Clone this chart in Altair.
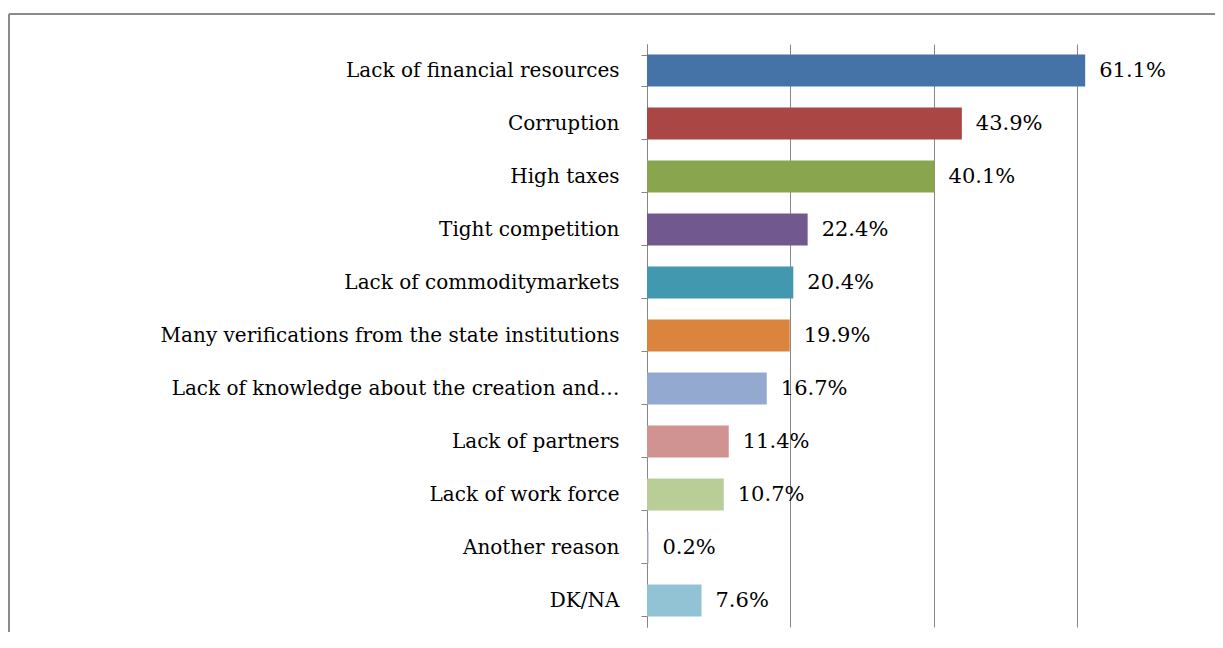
import altair as alt
import pandas as pd

categories = [
    "Lack of financial resources",
    "Corruption",
    "High taxes",
    "Tight competition",
    "Lack of commoditymarkets",
    "Many verifications from the state institutions",
    "Lack of knowledge about the creation and\u2026",
    "Lack of partners",
    "Lack of work force",
    "Another reason",
    "DK/NA",
]
values = [61.1, 43.9, 40.1, 22.4, 20.4, 19.9, 16.7, 11.4, 10.7, 0.2, 7.6]
colors = [
    "#4572A7", "#AA4643", "#89A54E", "#71588F", "#4198AF", "#DB843D",
    "#93A9CF", "#D19392", "#B9CD96", "#A99BBD", "#92C3D5",
]

df = pd.DataFrame({
    "category": categories,
    "value": values,
    "color": colors,
    "label": [f"{v}%" for v in values],
})

FONT = "DejaVu Serif"

y_enc = alt.Y(
    "category:N",
    sort=None,
    title=None,
    scale=alt.Scale(paddingInner=0.4, paddingOuter=0.2),
    axis=alt.Axis(
        labelFont=FONT, labelFontSize=20, labelColor="#000000",
        labelPadding=22, tickBand="extent", tickSize=6,
        tickColor="#868686", domainColor="#868686", labelLimit=600,
    ),
)
x_enc = alt.X(
    "value:Q",
    title=None,
    scale=alt.Scale(domain=[0, 79.2], nice=False),
    axis=alt.Axis(values=[0, 20, 40, 60, 80], labels=False, ticks=False,
                  domain=False, grid=True, gridColor="#868686"),
)

bars = alt.Chart(df).mark_bar().encode(
    y=y_enc, x=x_enc, color=alt.Color("color:N", scale=None)
)
text = alt.Chart(df).mark_text(
    align="left", dx=14, font=FONT, fontSize=21, color="#000000"
).encode(y=alt.Y("category:N", sort=None), x="value:Q", text="label:N")

frame_top = alt.Chart(df).mark_rule(color="#8a8a8a", strokeWidth=2).encode(
    x=alt.value(-638), x2=alt.value(700), y=alt.value(-30)
)
frame_left = alt.Chart(df).mark_rule(color="#8a8a8a", strokeWidth=2).encode(
    x=alt.value(-638), y=alt.value(-30), y2=alt.value(700)
)

chart = alt.layer(bars, text, frame_top, frame_left).properties(
    width=568, height=583,
    autosize=alt.AutoSizeParams(type="none"),
    padding={"left": 639, "top": 36, "right": 0, "bottom": 5},
).configure_view(stroke=None)

chart.save("out.html", embed_options={"renderer": "svg", "actions": False})
